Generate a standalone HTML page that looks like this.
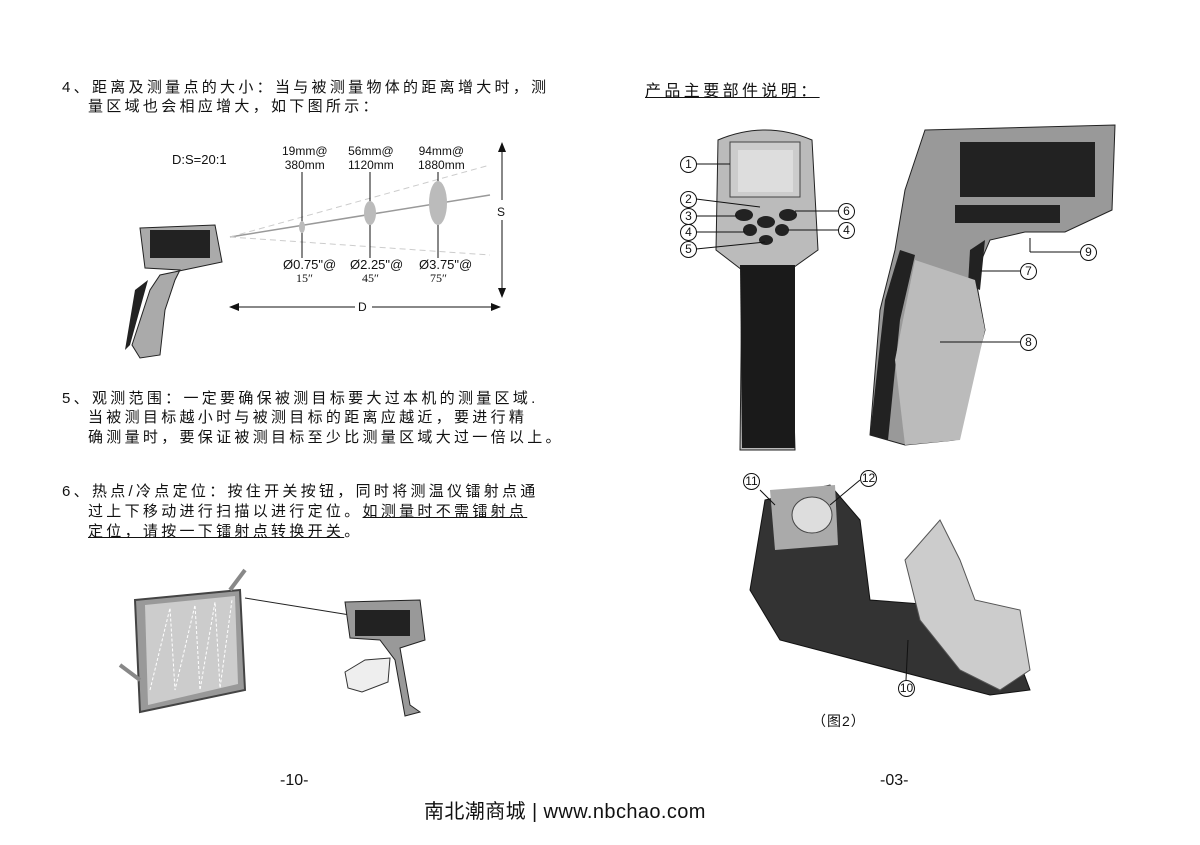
<!DOCTYPE html>
<html><head><meta charset="utf-8">
<style>
body{margin:0;background:#fff;width:1200px;height:845px;position:relative;overflow:hidden;font-family:"Liberation Sans","Noto Sans CJK SC",sans-serif;color:#111}
.t{position:absolute;white-space:nowrap;font-size:15px;letter-spacing:3.3px}
.s{position:absolute;white-space:nowrap;font-size:12px;line-height:14px;text-align:center}
.c{position:absolute;font-size:12px;width:15px;height:15px;border:1px solid #111;border-radius:50%;text-align:center;line-height:15px;background:#fff}
u{text-decoration:underline}
</style></head><body>
<div class="t" style="left:62px;top:76px">4、距离及测量点的大小：当与被测量物体的距离增大时，测</div>
<div class="t" style="left:88px;top:95px">量区域也会相应增大，如下图所示：</div>
<div class="s" style="left:172px;top:153px;font-size:13px">D:S=20:1</div>
<div class="s" style="left:282px;top:144px">19mm@<br>380mm</div>
<div class="s" style="left:348px;top:144px">56mm@<br>1120mm</div>
<div class="s" style="left:418px;top:144px">94mm@<br>1880mm</div>
<div class="s" style="left:283px;top:258px;font-size:13px">Ø0.75"@</div>
<div class="s" style="left:350px;top:258px;font-size:13px">Ø2.25"@</div>
<div class="s" style="left:419px;top:258px;font-size:13px">Ø3.75"@</div>
<div class="s" style="left:296px;top:271px;font-family:'Liberation Serif',serif">15″</div>
<div class="s" style="left:362px;top:271px;font-family:'Liberation Serif',serif">45″</div>
<div class="s" style="left:430px;top:271px;font-family:'Liberation Serif',serif">75″</div>
<div class="s" style="left:358px;top:300px">D</div>
<div class="s" style="left:497px;top:205px">S</div>
<svg style="position:absolute;left:0;top:0" width="1200" height="845">
<defs><marker id="a" markerWidth="10" markerHeight="8" refX="9" refY="4" orient="auto"><path d="M0,0L10,4L0,8z" fill="#111"/></marker></defs>
<line x1="230" y1="237" x2="490" y2="195" stroke="#999" stroke-width="1.5"/>
<line x1="230" y1="237" x2="490" y2="165" stroke="#ccc" stroke-dasharray="6,4"/>
<line x1="230" y1="237" x2="490" y2="255" stroke="#ccc" stroke-dasharray="6,4"/>
<line x1="302" y1="172" x2="302" y2="258" stroke="#111"/>
<line x1="370" y1="172" x2="370" y2="258" stroke="#111"/>
<line x1="438" y1="172" x2="438" y2="258" stroke="#111"/>
<ellipse cx="302" cy="227" rx="3" ry="6" fill="#bbb"/>
<ellipse cx="370" cy="213" rx="6" ry="12" fill="#bbb"/>
<ellipse cx="438" cy="203" rx="9" ry="22" fill="#bbb"/>
<line x1="355" y1="307" x2="230" y2="307" stroke="#111" marker-end="url(#a)"/>
<line x1="372" y1="307" x2="500" y2="307" stroke="#111" marker-end="url(#a)"/>
<line x1="502" y1="200" x2="502" y2="143" stroke="#111" marker-end="url(#a)"/>
<line x1="502" y1="220" x2="502" y2="297" stroke="#111" marker-end="url(#a)"/>
<path d="M140,228L215,225L222,262L160,275L150,290L132,345L140,358L160,355L165,310L175,280L180,270L145,268Z" fill="#aaa" stroke="#222"/>
<rect x="150" y="230" width="60" height="28" fill="#222"/>
<path d="M125,350L135,290L148,280L130,345Z" fill="#222"/>
<path d="M135,600L240,590L245,690L140,712Z" fill="#999" stroke="#444" stroke-width="2"/>
<path d="M145,605L235,596L238,684L148,705Z" fill="#ccc"/>
<polyline points="150,690 170,608 175,690 195,605 200,690 215,602 220,688 232,600" fill="none" stroke="#fff" stroke-dasharray="3,2"/>
<line x1="120" y1="665" x2="140" y2="680" stroke="#888" stroke-width="4"/>
<line x1="230" y1="590" x2="245" y2="570" stroke="#888" stroke-width="4"/>
<line x1="245" y1="598" x2="350" y2="615" stroke="#222"/>
<path d="M345,602L420,600L425,640L400,648L410,705L420,712L405,716L395,660L380,640L350,638Z" fill="#999" stroke="#222"/>
<rect x="355" y="610" width="55" height="26" fill="#222"/>
<path d="M345,672L365,660L390,658L388,682L362,692L348,688Z" fill="#eee" stroke="#333"/>
<path d="M718,140Q765,120 812,140L818,250L790,270L795,450L740,450L742,270L716,250Z" fill="#bbb" stroke="#222"/>
<path d="M740,265L795,265L795,448L742,448Z" fill="#1a1a1a"/>
<rect x="730" y="142" width="70" height="55" fill="#ccc" stroke="#444"/>
<rect x="738" y="150" width="55" height="42" fill="#ddd"/>
<ellipse cx="744" cy="215" rx="9" ry="6" fill="#222"/><ellipse cx="766" cy="222" rx="9" ry="6" fill="#222"/><ellipse cx="788" cy="215" rx="9" ry="6" fill="#222"/>
<ellipse cx="750" cy="230" rx="7" ry="6" fill="#222"/><ellipse cx="782" cy="230" rx="7" ry="6" fill="#222"/><ellipse cx="766" cy="240" rx="7" ry="5" fill="#222"/>
<g stroke="#111"><line x1="696" y1="164" x2="730" y2="164"/><line x1="696" y1="199" x2="760" y2="207"/><line x1="696" y1="216" x2="737" y2="216"/><line x1="696" y1="232" x2="745" y2="232"/><line x1="696" y1="249" x2="765" y2="242"/><line x1="795" y1="211" x2="840" y2="211"/><line x1="788" y1="230" x2="840" y2="230"/></g>
<path d="M925,130L1115,125L1112,210L1065,232L1025,232L990,240L975,275L985,330L955,440L905,445L870,435L880,310L895,250L905,190Z" fill="#999" stroke="#222"/>
<path d="M870,435L885,300L900,250L915,255L900,320L888,440Z" fill="#222"/>
<rect x="960" y="142" width="135" height="55" fill="#222"/>
<rect x="955" y="205" width="105" height="18" fill="#222"/>
<path d="M970,250L985,240L980,290L968,285Z" fill="#222"/>
<path d="M915,260L975,280L985,330L960,440L905,445L895,360Z" fill="#bbb"/>
<g stroke="#111"><line x1="1030" y1="238" x2="1030" y2="252"/><line x1="1030" y1="252" x2="1080" y2="252"/><line x1="980" y1="271" x2="1020" y2="271"/><line x1="940" y1="342" x2="1020" y2="342"/></g>
<path d="M765,500L830,485L860,520L870,600L1000,610L1030,690L990,695L780,640L750,590Z" fill="#333" stroke="#111"/>
<path d="M770,490L835,485L838,545L775,550Z" fill="#aaa"/>
<ellipse cx="812" cy="515" rx="20" ry="18" fill="#ddd" stroke="#444"/>
<path d="M905,560L940,520L960,560L975,600L1020,610L1030,670L1000,690L960,670L920,620Z" fill="#ccc" stroke="#555"/>
<g stroke="#111"><line x1="760" y1="490" x2="775" y2="505"/><line x1="860" y1="480" x2="830" y2="505"/><line x1="908" y1="640" x2="906" y2="680"/></g>
</svg>
<div class="c" style="left:680px;top:156px">1</div>
<div class="c" style="left:680px;top:191px">2</div>
<div class="c" style="left:680px;top:208px">3</div>
<div class="c" style="left:680px;top:224px">4</div>
<div class="c" style="left:680px;top:241px">5</div>
<div class="c" style="left:838px;top:203px">6</div>
<div class="c" style="left:838px;top:222px">4</div>
<div class="c" style="left:1080px;top:244px">9</div>
<div class="c" style="left:1020px;top:263px">7</div>
<div class="c" style="left:1020px;top:334px">8</div>
<div class="c" style="left:743px;top:473px">11</div>
<div class="c" style="left:860px;top:470px">12</div>
<div class="c" style="left:898px;top:680px">10</div>
<div class="t" style="left:62px;top:387px">5、观测范围：一定要确保被测目标要大过本机的测量区域.</div>
<div class="t" style="left:88px;top:406px">当被测目标越小时与被测目标的距离应越近，要进行精</div>
<div class="t" style="left:88px;top:426px">确测量时，要保证被测目标至少比测量区域大过一倍以上。</div>
<div class="t" style="left:62px;top:480px">6、热点/冷点定位：按住开关按钮，同时将测温仪镭射点通</div>
<div class="t" style="left:88px;top:500px">过上下移动进行扫描以进行定位。<u>如测量时不需镭射点</u></div>
<div class="t" style="left:88px;top:520px"><u>定位，请按一下镭射点转换开关</u>。</div>
<div class="t" style="left:645px;top:77px;font-size:16px;letter-spacing:3.4px"><u>产品主要部件说明：</u></div>
<div class="t" style="left:812px;top:711px;font-size:14px;letter-spacing:1px">（图2）</div>
<div class="t" style="left:280px;top:772px;font-size:16px;letter-spacing:0">-10-</div>
<div class="t" style="left:880px;top:772px;font-size:16px;letter-spacing:0">-03-</div>
<div class="t" style="left:424px;top:795px;font-size:20px;letter-spacing:0.4px">南北潮商城 | www.nbchao.com</div>
</body></html>
